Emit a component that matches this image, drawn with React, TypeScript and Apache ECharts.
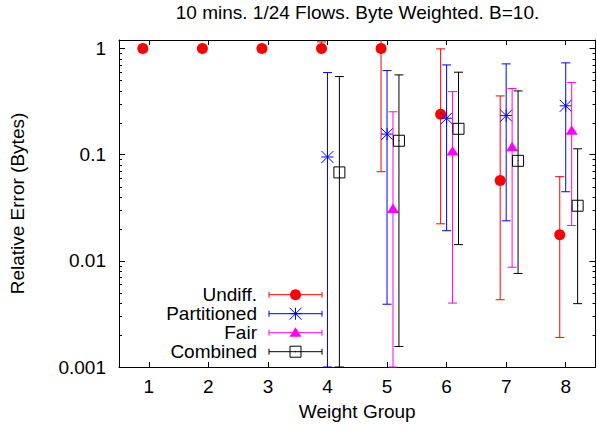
import React, { useEffect, useRef } from 'react';
import * as echarts from 'echarts';

const FONT = '"Liberation Sans", Arial, Helvetica, sans-serif';
const FS = 19;

const titleText = '10 mins. 1/24 Flows. Byte Weighted. B=10.';
const xName = 'Weight Group';
const yName = 'Relative Error (Bytes)';

const groups = [1, 2, 3, 4, 5, 6, 7, 8];
const seriesNames = ['Undiff.', 'Partitioned', 'Fair', 'Combined'];
const seriesColors = ['#ff0000', '#0000ff', '#ff00ff', '#000000'];
const seriesKinds = ['circle', 'asterisk', 'triangle', 'square'];
const seriesOffsets = [-0.1, 0, 0.1, 0.2];

// value / low / high per weight group (null = not plotted)
const undiffValue = [1, 1, 1, 1, 1, 0.24, 0.057, 0.0176];
const undiffLow = [1, 1, 1, 1, 0.069, 0.0223, 0.0043, 0.0019];
const undiffHigh = [1, 1, 1, 1.15, 1.5, 0.99, 0.357, 0.062];

const partValue = [null, null, null, 0.095, 0.156, 0.22, 0.233, 0.288];
const partLow = [null, null, null, 0.0005, 0.0039, 0.0192, 0.0238, 0.0447];
const partHigh = [null, null, null, 0.592, 0.618, 0.699, 0.715, 0.731];

const fairValue = [null, null, null, null, 0.0307, 0.107, 0.1176, 0.1675];
const fairLow = [null, null, null, null, 0.0005, 0.004, 0.0087, 0.0215];
const fairHigh = [null, null, null, null, 0.253, 0.392, 0.419, 0.477];

const combValue = [null, null, null, 0.068, 0.135, 0.175, 0.0874, 0.033];
const combLow = [null, null, null, 0.0005, 0.00156, 0.0142, 0.0076, 0.00395];
const combHigh = [null, null, null, 0.543, 0.563, 0.597, 0.398, 0.1134];

const allValues = [undiffValue, partValue, fairValue, combValue];
const allLows = [undiffLow, partLow, fairLow, combLow];
const allHighs = [undiffHigh, partHigh, fairHigh, combHigh];

const yTickValues = [0.001, 0.01, 0.1, 1];
const yTickLabels = ['0.001', '0.01', '0.1', '1'];
const yMin = 0.001;
const yMax = 1.2;
const xMin = 0.5;
const xMax = 8.5;

const minorTickValues: number[] = [];
for (const d of [0.001, 0.01, 0.1]) {
  for (let m = 2; m <= 9; m++) minorTickValues.push(m * d);
}

function marker(kind: string, color: string, cx: number, cy: number): any {
  if (kind === 'circle') {
    return { type: 'circle', shape: { cx, cy, r: 5.5 }, style: { fill: color, stroke: null } };
  }
  if (kind === 'asterisk') {
    const s = 6;
    const st = { stroke: color, lineWidth: 1 };
    return {
      type: 'group',
      children: [
        { type: 'line', shape: { x1: cx - s, y1: cy, x2: cx + s, y2: cy }, style: st },
        { type: 'line', shape: { x1: cx, y1: cy - s, x2: cx, y2: cy + s }, style: st },
        { type: 'line', shape: { x1: cx - s, y1: cy - s, x2: cx + s, y2: cy + s }, style: st },
        { type: 'line', shape: { x1: cx - s, y1: cy + s, x2: cx + s, y2: cy - s }, style: st },
      ],
    };
  }
  if (kind === 'triangle') {
    return {
      type: 'polygon',
      shape: { points: [[cx - 6, cy + 4], [cx + 6, cy + 4], [cx, cy - 5.5]] },
      style: { fill: color, stroke: null },
    };
  }
  return {
    type: 'group',
    children: [
      { type: 'rect', shape: { x: cx - 5.5, y: cy - 5.5, width: 11, height: 11 }, style: { fill: 'none', stroke: color, lineWidth: 1 } },
      { type: 'rect', shape: { x: cx - 0.5, y: cy - 0.5, width: 1, height: 1 }, style: { fill: color } },
    ],
  };
}

function buildData(i: number) {
  const out: number[][] = [];
  groups.forEach((g, k) => {
    const v = allValues[i][k];
    if (v == null) return;
    out.push([g + seriesOffsets[i], v, allLows[i][k] as number, allHighs[i][k] as number]);
  });
  return out;
}

export default function App() {
  const ref = useRef<HTMLDivElement>(null);
  useEffect(() => {
    if (!ref.current) return;
    const chart = echarts.init(ref.current, null, { renderer: 'svg' });

    const errSeries = seriesNames.map((name, i) => ({
      type: 'custom',
      name,
      xAxisIndex: 0,
      yAxisIndex: 0,
      z: 3 + i,
      data: buildData(i),
      renderItem: (params: any, api: any) => {
        const cs = params.coordSys;
        const x = api.value(0);
        const p = api.coord([x, api.value(1)]);
        const pl = api.coord([x, api.value(2)]);
        const ph = api.coord([x, api.value(3)]);
        const top = cs.y;
        const bottom = cs.y + cs.height;
        const yl = Math.min(pl[1], bottom);
        const yh = Math.max(ph[1], top);
        const color = seriesColors[i];
        const st = { stroke: color, lineWidth: 1 };
        const children: any[] = [
          { type: 'line', shape: { x1: p[0], y1: yh, x2: p[0], y2: yl }, style: st },
          { type: 'line', shape: { x1: p[0] - 4.5, y1: yl, x2: p[0] + 4.5, y2: yl }, style: st },
        ];
        if (ph[1] >= top) {
          children.push({ type: 'line', shape: { x1: p[0] - 4.5, y1: yh, x2: p[0] + 4.5, y2: yh }, style: st });
        }
        children.push(marker(seriesKinds[i], color, p[0], p[1]));
        return { type: 'group', children };
      },
    }));

    const minorSeries = {
      type: 'custom',
      name: 'minor',
      xAxisIndex: 0,
      yAxisIndex: 0,
      z: 2,
      silent: true,
      data: minorTickValues.map((v) => [xMin, v]),
      renderItem: (params: any, api: any) => {
        const cs = params.coordSys;
        const p = api.coord([api.value(0), api.value(1)]);
        const y = Math.round(p[1]) + 0.5;
        const st = { stroke: '#000', lineWidth: 1 };
        return {
          type: 'group',
          children: [
            { type: 'line', shape: { x1: cs.x, y1: y, x2: cs.x + 3, y2: y }, style: st },
            { type: 'line', shape: { x1: cs.x + cs.width - 3, y1: y, x2: cs.x + cs.width, y2: y }, style: st },
          ],
        };
      },
    };

    const axisLine = { show: true, lineStyle: { color: '#000', width: 1 } };
    const labelStyle = { color: '#000', fontSize: FS, fontFamily: FONT };
    const yFormatter = (v: number) => {
      for (let k = 0; k < yTickValues.length; k++) {
        if (Math.abs(v - yTickValues[k]) < yTickValues[k] * 1e-6) return yTickLabels[k];
      }
      return '';
    };

    const legendX = 257;
    const legendY0 = 294.7;
    const legendDy = 19;
    const legendElems: any[] = [];
    seriesNames.forEach((name, i) => {
      const y = legendY0 + i * legendDy;
      const color = seriesColors[i];
      const st = { stroke: color, lineWidth: 1 };
      legendElems.push({
        type: 'text',
        x: legendX,
        y,
        style: { text: name, font: `${FS}px ${FONT}`, fill: '#000', align: 'right', verticalAlign: 'middle' },
      });
      legendElems.push({ type: 'line', shape: { x1: 269, y1: y, x2: 322, y2: y }, style: st });
      legendElems.push({ type: 'line', shape: { x1: 269, y1: y - 3, x2: 269, y2: y + 3 }, style: st });
      legendElems.push({ type: 'line', shape: { x1: 322, y1: y - 3, x2: 322, y2: y + 3 }, style: st });
      legendElems.push(marker(seriesKinds[i], color, 295.5, y));
    });

    chart.setOption({
      animation: false,
      backgroundColor: '#fff',
      grid: { left: 118, top: 40, right: 1.5, bottom: 66, containLabel: false },
      xAxis: [
        {
          type: 'value',
          min: xMin,
          max: xMax,
          position: 'bottom',
          axisLine,
          axisTick: { show: true, inside: true, length: 5, customValues: groups, lineStyle: { color: '#000' } },
          axisLabel: { ...labelStyle, margin: 10, customValues: groups },
          splitLine: { show: false },
          name: xName,
          nameLocation: 'middle',
          nameGap: 35,
          nameTextStyle: labelStyle,
        },
        {
          type: 'value',
          min: xMin,
          max: xMax,
          position: 'top',
          axisLine,
          axisTick: { show: true, inside: true, length: 5, customValues: groups, lineStyle: { color: '#000' } },
          axisLabel: { show: false },
          splitLine: { show: false },
        },
      ],
      yAxis: [
        {
          type: 'log',
          logBase: 10,
          min: yMin,
          max: yMax,
          position: 'left',
          axisLine,
          axisTick: { show: true, inside: true, length: 6, lineStyle: { color: '#000' } },
          axisLabel: { ...labelStyle, margin: 13, formatter: yFormatter },
          minorTick: { show: false },
          splitLine: { show: false },
          name: yName,
          nameLocation: 'middle',
          nameGap: 92,
          nameTextStyle: labelStyle,
        },
        {
          type: 'log',
          logBase: 10,
          min: yMin,
          max: yMax,
          position: 'right',
          axisLine,
          axisTick: { show: true, inside: true, length: 6, lineStyle: { color: '#000' } },
          axisLabel: { show: false },
          splitLine: { show: false },
        },
      ],
      graphic: [
        {
          type: 'text',
          x: 357.5,
          y: 12,
          style: { text: titleText, font: `${FS}px ${FONT}`, fill: '#000', align: 'center', verticalAlign: 'middle' },
        },
        ...legendElems,
      ],
      series: [minorSeries, ...errSeries],
    });

    return () => chart.dispose();
  }, []);

  return (
    <div
      ref={ref}
      style={{ position: 'absolute', left: 0, top: 0, width: 597, height: 433, background: '#fff' }}
    />
  );
}
